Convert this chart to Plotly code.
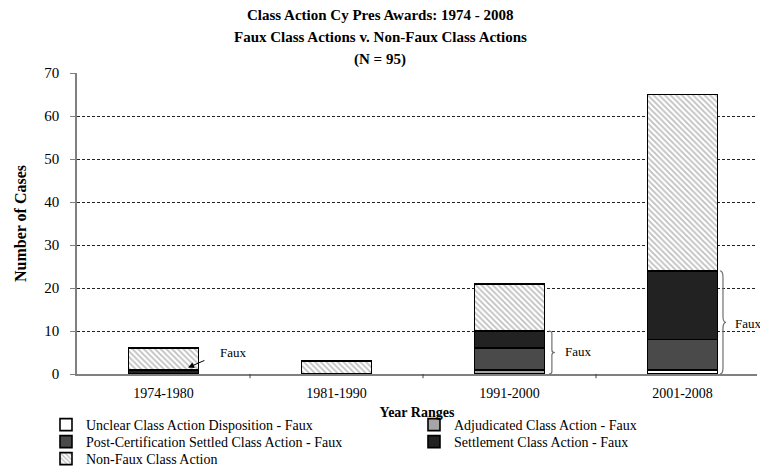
import plotly.graph_objects as go

categories = ["1974-1980", "1981-1990", "1991-2000", "2001-2008"]
unclear = [0, 0, 0, 1]
adjudicated = [0, 0, 1, 0]
post_cert = [0, 0, 5, 7]
settlement = [1, 0, 4, 16]
non_faux = [5, 3, 11, 41]

title_lines = ["Class Action Cy Pres Awards: 1974 - 2008",
               "Faux Class Actions v. Non-Faux Class Actions",
               "(N = 95)"]

# name, values, fill colour, hatch, legend row
series = [
    ("Unclear Class Action Disposition - Faux", unclear, "#ffffff", None, "legend"),
    ("Adjudicated Class Action - Faux", adjudicated, "#a6a6a6", None, "legend"),
    ("Post-Certification Settled Class Action - Faux", post_cert, "#4a4a4a", None, "legend2"),
    ("Settlement Class Action - Faux", settlement, "#222222", None, "legend2"),
    ("Non-Faux Class Action", non_faux, "#ffffff", "\\", "legend3"),
]

FONT = "Liberation Serif"
xs = list(range(len(categories)))
fig = go.Figure()
for name, vals, color, pat, leg in series:
    marker = dict(color=color, line=dict(color="black", width=1.6))
    if pat:
        marker["pattern"] = dict(shape=pat, fgcolor="#808080", bgcolor="#ffffff", size=4, solidity=0.45)
    fig.add_trace(go.Bar(x=xs, y=vals, name=name, marker=marker, width=0.405, legend=leg))


def brace(xc, y0, y1, w=0.035):
    h = y1 - y0
    ym = (y0 + y1) / 2
    c = h * 0.06
    return (f"M {xc-w/2} {y1} Q {xc} {y1} {xc} {y1-c} L {xc} {ym+c} "
            f"Q {xc} {ym} {xc+w/2} {ym} Q {xc} {ym} {xc} {ym-c} "
            f"L {xc} {y0+c} Q {xc} {y0} {xc-w/2} {y0}")


faux3 = unclear[2] + adjudicated[2] + post_cert[2] + settlement[2]
faux4 = unclear[3] + adjudicated[3] + post_cert[3] + settlement[3]
fig.add_shape(type="path", path=brace(2.245, 0, faux3), line=dict(color="#707070", width=1.2),
              xref="x", yref="y", layer="above")
fig.add_shape(type="path", path=brace(3.234, 0, faux4), line=dict(color="#707070", width=1.2),
              xref="x", yref="y", layer="above")

afont = dict(family=FONT, size=13, color="black")
fig.add_annotation(x=2.40, y=faux3 / 2 + 0.3, text="Faux", showarrow=False, font=afont)
fig.add_annotation(x=3.29, y=faux4 / 2 - 0.2, text="Faux", showarrow=False, xanchor="left", font=afont)
fig.add_annotation(x=0.142, y=1.5, ax=0.245, ay=3.3, xref="x", yref="y", axref="x", ayref="y",
                   text="", showarrow=True, arrowhead=2, arrowsize=1.2, arrowwidth=1, arrowcolor="black")
fig.add_annotation(x=0.315, y=5.0, text="Faux", showarrow=False, xanchor="left", font=afont)

for txt, yy in zip(title_lines, [1.193, 1.118, 1.045]):
    fig.add_annotation(x=0.446, y=yy, xref="paper", yref="paper", yanchor="middle",
                       text=f"<b>{txt}</b>", showarrow=False,
                       font=dict(family=FONT, size=15, color="black"))

legend_common = dict(
    orientation="h", xref="paper", yref="paper", x=-0.0456, xanchor="left", yanchor="middle",
    entrywidth=323, entrywidthmode="pixels", traceorder="normal",
    font=dict(family=FONT, size=14), itemwidth=30, bgcolor="rgba(0,0,0,0)",
)

fig.update_layout(
    barmode="stack",
    width=760, height=468,
    paper_bgcolor="white", plot_bgcolor="white",
    margin=dict(l=77, r=3, t=73, b=94, autoexpand=False),
    font=dict(family=FONT, size=13, color="black"),
    xaxis=dict(
        tickmode="array", tickvals=xs, ticktext=categories,
        range=[-0.5, -0.5 + 680 / 173], showline=True, linecolor="#808080", linewidth=1.5,
        showgrid=False, zeroline=False, ticks="", ticklabelstandoff=5,
        title=dict(text="<b>Year Ranges</b>", font=dict(family=FONT, size=14), standoff=8),
        tickfont=dict(family=FONT, size=14),
    ),
    yaxis=dict(
        range=[0, 70], dtick=10, showline=True, linecolor="#808080", linewidth=1.5,
        ticks="outside", ticklen=5, tickcolor="#808080", ticklabelstandoff=8,
        showgrid=True, gridcolor="#222222", griddash="3px,2px", gridwidth=1, zeroline=False,
        title=dict(text="<b>Number of Cases</b>", font=dict(family=FONT, size=16), standoff=14),
        tickfont=dict(family=FONT, size=15),
    ),
    legend=dict(legend_common, y=(374 - 425) / 301),
    legend2=dict(legend_common, y=(374 - 442) / 301),
    legend3=dict(legend_common, y=(374 - 459) / 301),
)

# category boundary tick marks on the x axis
for b in [0.5, 1.5, 2.5]:
    fig.add_shape(type="line", x0=b, x1=b, y0=0, y1=-0.014, xref="x", yref="paper",
                  line=dict(color="#404040", width=1))

fig.write_html("out.html", config={"displayModeBar": False},
               post_script="document.body.style.margin='0';")
